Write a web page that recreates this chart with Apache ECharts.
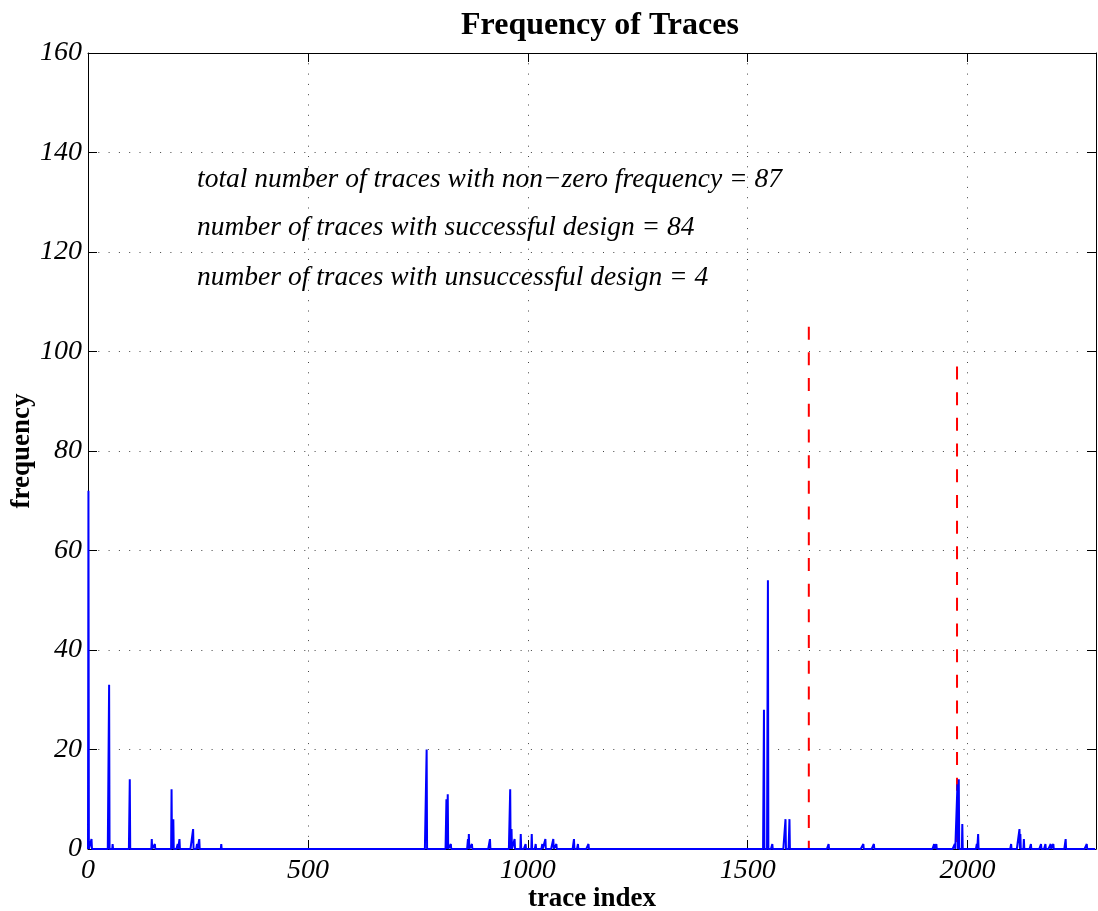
<!DOCTYPE html>
<html>
<head>
<meta charset="utf-8">
<script src="https://cdn.jsdelivr.net/npm/echarts@6/dist/echarts.min.js"></script>
<style>
html,body{margin:0;padding:0;background:#fff;}
#chart{width:1098px;height:911px;}
</style>
</head>
<body>
<div id="chart"></div>
<script>
// ---- data ----
var traceCount = 2292;
var spikeIndex = [1, 8, 48, 56, 95, 145, 152, 190, 194, 204, 208, 239, 248, 253, 303,
  770, 815, 818, 825, 864, 866, 873, 914, 960, 963, 970, 984, 995, 1009, 1018, 1033,
  1040, 1058, 1065, 1105, 1114, 1138, 1537, 1546, 1556, 1586, 1595, 1684, 1763, 1787,
  1924, 1929, 1971, 1977, 1980, 1988, 2021, 2024, 2099, 2118, 2120, 2128, 2144, 2167,
  2177, 2189, 2195, 2223, 2271];
var spikeFreq = [72, 2, 33, 1, 14, 2, 1, 12, 6, 1, 2, 4, 1, 2, 1,
  20, 10, 11, 1, 2, 3, 1, 2, 12, 4, 2, 3, 1, 3, 1, 1,
  2, 2, 1, 2, 1, 1, 28, 54, 1, 6, 6, 1, 1, 1,
  1, 1, 1, 13, 14, 5, 1, 3, 1, 4, 3, 2, 1, 1,
  1, 1, 1, 2, 1];
var markerX = [1639, 1976];
var markerTop = [105, 97];
var xTicks = [0, 500, 1000, 1500, 2000];
var yTicks = [0, 20, 40, 60, 80, 100, 120, 140, 160];
var notes = [
  'total number of traces with non\u2212zero frequency = 87',
  'number of traces with successful design = 84',
  'number of traces with unsuccessful design = 4'
];

// ---- build the full frequency line (zeros everywhere except spikes) ----
var freq = new Array(traceCount).fill(0);
spikeIndex.forEach(function (ix, k) { freq[ix] = spikeFreq[k]; });
var lineData = freq.map(function (v, i) { return [i, v]; });

var serif = '"Liberation Serif", "DejaVu Serif", serif';
var chart = echarts.init(document.getElementById('chart'));

var markerSeries = markerX.map(function (x, k) {
  return {
    type: 'line', xAxisIndex: 0, yAxisIndex: 0, showSymbol: false, silent: true,
    data: [[x, markerTop[k]], [x, 0]],
    lineStyle: { color: '#ff0000', width: 2, type: [13, 12.7] },
    z: 3
  };
});

var gridDots = { show: true, lineStyle: { color: '#444', width: 1, type: [1, 9.3] } };

var option = {
  backgroundColor: '#fff',
  animation: false,
  title: {
    text: 'Frequency of Traces',
    left: 595, top: 5, textAlign: 'center',
    textStyle: { fontFamily: serif, fontWeight: 'bold', fontSize: 32, color: '#000' }
  },
  grid: { left: 88, right: 2, top: 53, bottom: 62, containLabel: false, outerBoundsMode: 'none' },
  xAxis: [{
    type: 'value', min: 0, max: traceCount, interval: 500,
    position: 'bottom',
    name: 'trace index', nameLocation: 'middle', nameGap: 37, nameMoveOverlap: false,
    nameTextStyle: { fontFamily: serif, fontWeight: 'bold', fontSize: 27, color: '#000' },
    axisLine: { show: true, onZero: false, lineStyle: { color: '#000', width: 1 } },
    axisTick: { show: true, inside: true, length: 9, lineStyle: { color: '#000' } },
    axisLabel: {
      showMaxLabel: false, margin: 8,
      fontFamily: serif, fontStyle: 'italic', fontSize: 28, color: '#000',
      formatter: function (v) { return xTicks.indexOf(v) >= 0 ? String(v) : ''; }
    },
    splitLine: gridDots
  }, {
    type: 'value', min: 0, max: traceCount, interval: 500,
    position: 'top',
    axisLine: { show: true, onZero: false, lineStyle: { color: '#000', width: 1 } },
    axisTick: { show: true, inside: true, length: 9, lineStyle: { color: '#000' } },
    axisLabel: { show: false },
    splitLine: { show: false }
  }],
  yAxis: [{
    type: 'value', min: 0, max: 160, interval: 20,
    position: 'left',
    name: 'frequency', nameLocation: 'middle', nameGap: 52, nameRotate: 90, nameMoveOverlap: false,
    nameTextStyle: { fontFamily: serif, fontWeight: 'bold', fontSize: 27, color: '#000' },
    axisLine: { show: true, onZero: false, lineStyle: { color: '#000', width: 1 } },
    axisTick: { show: true, inside: true, length: 9, lineStyle: { color: '#000' } },
    axisLabel: {
      margin: 6,
      fontFamily: serif, fontStyle: 'italic', fontSize: 28, color: '#000',
      formatter: function (v) { return yTicks.indexOf(v) >= 0 ? String(v) : ''; }
    },
    splitLine: gridDots
  }, {
    type: 'value', min: 0, max: 160, interval: 20,
    position: 'right',
    axisLine: { show: true, onZero: false, lineStyle: { color: '#000', width: 1 } },
    axisTick: { show: true, inside: true, length: 9, lineStyle: { color: '#000' } },
    axisLabel: { show: false },
    splitLine: { show: false }
  }],
  series: markerSeries.concat([{
    type: 'line', xAxisIndex: 0, yAxisIndex: 0,
    data: lineData, showSymbol: false, sampling: null, silent: true,
    lineStyle: { color: '#0000ff', width: 2 },
    z: 4
  }]),
  graphic: notes.map(function (t, k) {
    return {
      type: 'text', left: 197, top: [166, 214, 264][k], z: 10,
      style: { text: t, fontFamily: serif, fontStyle: 'italic', fontSize: 27.5, fill: '#000' }
    };
  })
};
chart.setOption(option);
</script>
</body>
</html>
